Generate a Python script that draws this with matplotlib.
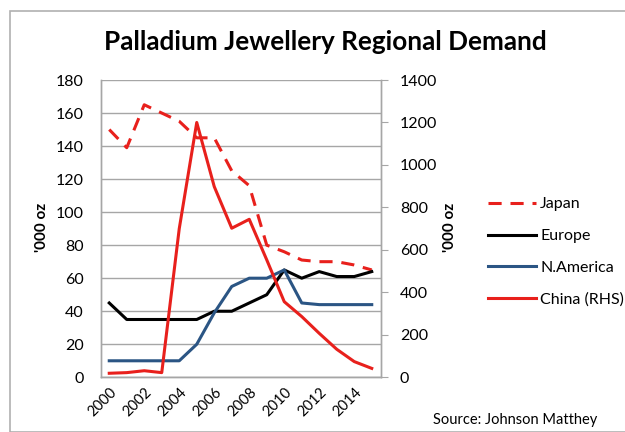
import matplotlib.pyplot as plt
from matplotlib.patches import Rectangle

plt.rcParams['font.family'] = ['Lato', 'DejaVu Sans']

# data
years = list(range(2000, 2016))
japan = [150, 139, 165, 160, 155, 145, 145, 125, 116, 80, 76, 71, 70, 70, 68, 65]
europe = [45, 35, 35, 35, 35, 35, 40, 40, 45, 50, 65, 60, 64, 61, 61, 64]
n_america = [10, 10, 10, 10, 10, 20, 39, 55, 60, 60, 65, 45, 44, 44, 44, 44]
china = [19, 22, 31, 22, 700, 1200, 898, 702, 744, 553, 356, 286, 207, 132, 74, 42]
tick_years = [2000, 2002, 2004, 2006, 2008, 2010, 2012, 2014]

red = '#e8201c'
blue = '#2b5584'
grid_gray = '#a6a6a6'

fig = plt.figure(figsize=(6.25, 4.32), dpi=100)
W, H = 625, 432

# light frame around the chart
fig.patches.append(Rectangle((10 / W, 0), 1, 1 - 11 / H, transform=fig.transFigure,
                             fill=False, edgecolor='#b0b0b0', lw=1.2))

ax = fig.add_axes([100.5 / W, 1 - 377.3 / H, 280 / W, 297.3 / H])
ax2 = ax.twinx()

x = list(range(len(years)))
l1, = ax.plot(x, japan, color=red, lw=2.2, dashes=(4.3, 2.9))
l2, = ax.plot(x, europe, color='black', lw=2.2)
l3, = ax.plot(x, n_america, color=blue, lw=2.2)
l4, = ax2.plot(x, china, color=red, lw=2.2)

ax.set_xlim(-0.5, len(years) - 0.5)
ax.set_ylim(0, 180)
ax.set_yticks(range(0, 181, 20))
ax2.set_ylim(0, 1400)
ax2.set_yticks(range(0, 1401, 200))

ax.set_xticks([years.index(t) for t in tick_years])
ax.set_xticklabels([str(t) for t in tick_years], rotation=45, ha='right',
                   rotation_mode='anchor', fontsize=10.5)
ax.tick_params(axis='x', length=0, pad=6)
ax.tick_params(axis='y', length=0, pad=12, labelsize=11.5)
ax2.tick_params(axis='y', length=5, pad=9, labelsize=11.5, color=grid_gray)

ax.grid(axis='y', color=grid_gray, lw=1)
ax.set_axisbelow(True)
for a in (ax, ax2):
    a.spines['top'].set_visible(False)
    for s in ('left', 'right', 'bottom'):
        a.spines[s].set_color(grid_gray)
        a.spines[s].set_linewidth(1)

fig.text(325 / W, 1 - 42 / H, 'Palladium Jewellery Regional Demand', ha='center',
         va='center', fontsize=18.8, fontweight='bold')
fig.text(42 / W, 1 - 227 / H, "'000 oz", rotation=90, ha='center', va='center',
         fontsize=11, fontweight='bold')
fig.text(450 / W, 1 - 227 / H, "'000 oz", rotation=90, ha='center', va='center',
         fontsize=11, fontweight='bold')
fig.text(433 / W, 1 - 420 / H, 'Source: Johnson Matthey', ha='left', va='center',
         fontsize=10.5)

fig.legend([l1, l2, l3, l4], ['Japan', 'Europe', 'N.America', 'China (RHS)'],
           loc='center left', bbox_to_anchor=(474 / W, 1 - 252 / H), frameon=False,
           fontsize=11.5, handlelength=3.0, handletextpad=0.25, labelspacing=1.1)

fig.savefig('out.png', dpi=100)
